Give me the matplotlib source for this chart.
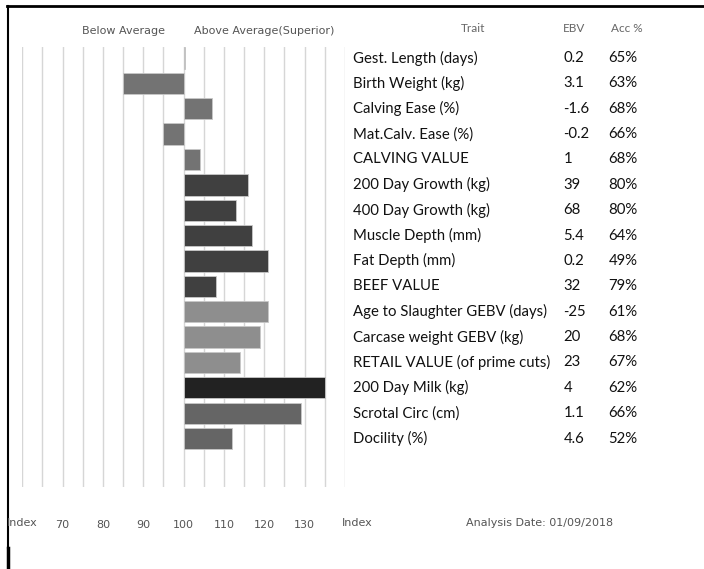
import matplotlib
matplotlib.use("Agg")
import matplotlib.pyplot as plt
from matplotlib.lines import Line2D
import matplotlib.transforms as mtransforms

traits = ["Gest. Length (days)", "Birth Weight (kg)", "Calving Ease (%)",
          "Mat.Calv. Ease (%)", "CALVING VALUE", "200 Day Growth (kg)",
          "400 Day Growth (kg)", "Muscle Depth (mm)", "Fat Depth (mm)",
          "BEEF VALUE", "Age to Slaughter GEBV (days)", "Carcase weight GEBV (kg)",
          "RETAIL VALUE (of prime cuts)", "200 Day Milk (kg)", "Scrotal Circ (cm)",
          "Docility (%)"]
ebv = ["0.2", "3.1", "-1.6", "-0.2", "1", "39", "68", "5.4", "0.2", "32",
       "-25", "20", "23", "4", "1.1", "4.6"]
acc = ["65%", "63%", "68%", "66%", "68%", "80%", "80%", "64%", "49%", "79%",
       "61%", "68%", "67%", "62%", "66%", "52%"]
index_vals = [100.4, 85, 107, 95, 104, 116, 113, 117, 121, 108,
              121, 119, 114, 135, 129, 112]
bar_colors = ["#737373"] * 5 + ["#404040"] * 5 + ["#8e8e8e"] * 3 + ["#222222"] + ["#656565"] * 2
tick_vals = [70, 80, 90, 100, 110, 120, 130]
grid_vals = list(range(60, 145, 5))

W, H = 704, 569
fig = plt.figure(figsize=(W / 100, H / 100), dpi=100)

def fx(px):
    return px / W

def fy(py):
    return 1 - py / H

ax_left, ax_right = 22.3, 345.0
ax_top, ax_bot = 47.0, 487.0
ax = fig.add_axes([fx(ax_left), fy(ax_bot), fx(ax_right - ax_left), (ax_bot - ax_top) / H])
ax.set_xlim(60, 140)
pitch = 25.37
ax.set_ylim((ax_bot - 58) / pitch, -(58 - ax_top) / pitch)

for g in grid_vals:
    ax.axvline(g, color="#d6d6d6", lw=1.0, zorder=1)

n = len(traits)
ys = list(range(n))
lefts = [min(v, 100) for v in index_vals]
widths = [abs(v - 100) for v in index_vals]
ax.barh(ys, widths, left=lefts, height=0.84, color=bar_colors,
        edgecolor="#c8c8c8", linewidth=0.6, zorder=3)

for s in ax.spines.values():
    s.set_visible(False)
ax.set_yticks([])
ax.set_xticks(tick_vals)
ax.set_xticklabels([str(t) for t in tick_vals])
ax.tick_params(axis="x", length=0, labelsize=8, labelcolor="#555555")
for lbl in ax.get_xticklabels():
    lbl.set_verticalalignment("center")
ax.tick_params(axis="x", pad=27)

gray = "#555555"
fig.text(fx(22), fy(523), "Index", ha="center", va="center", fontsize=8, color=gray)
fig.text(fx(342), fy(523), "Index", ha="left", va="center", fontsize=8, color=gray)
fig.text(fx(540), fy(523), "Analysis Date: 01/09/2018", ha="center", va="center",
         fontsize=8, color=gray)

fig.text(fx(123), fy(30.7), "Below Average", ha="center", va="center", fontsize=8, color=gray)
fig.text(fx(264), fy(30.7), "Above Average(Superior)", ha="center", va="center", fontsize=8, color=gray)

hdr = dict(va="center", fontsize=8.5, color="#666666", family="Lato")
fig.text(fx(473), fy(28), "Trait", ha="center", **hdr)
fig.text(fx(574), fy(28), "EBV", ha="center", **hdr)
fig.text(fx(627), fy(28), "Acc %", ha="center", **hdr)

trans = mtransforms.blended_transform_factory(fig.transFigure, ax.transData)
row = dict(va="center", fontsize=10.7, color="#111111", family="Lato", transform=trans)
for i in range(n):
    fig.text(fx(352.7), i, traits[i], ha="left", **row)
    fig.text(fx(563.3), i, ebv[i], ha="left", **row)
    fig.text(fx(608.3), i, acc[i], ha="left", **row)

# frame lines
fig.add_artist(Line2D([fx(7), fx(704)], [fy(6), fy(6)], color="black", lw=2))
fig.add_artist(Line2D([fx(8), fx(8)], [fy(6), fy(548)], color="black", lw=1.5))
fig.add_artist(Line2D([fx(8), fx(8)], [fy(548), fy(569)], color="black", lw=2.5))

fig.savefig("out.png", dpi=100)
